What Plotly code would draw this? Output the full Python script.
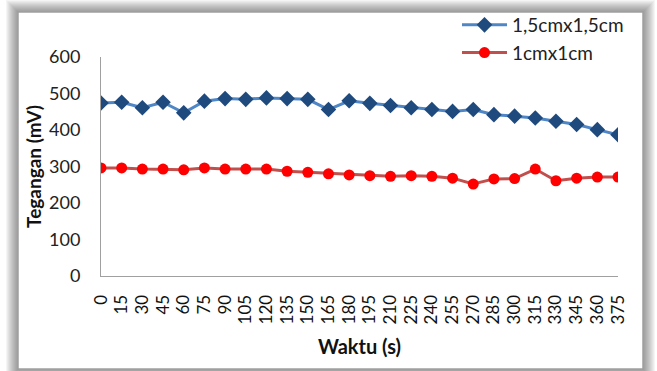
import plotly.graph_objects as go

waktu = [0, 15, 30, 45, 60, 75, 90, 105, 120, 135, 150, 165, 180, 195, 210, 225,
         240, 255, 270, 285, 300, 315, 330, 345, 360, 375]
seri_15 = [474, 476, 461, 476, 447, 479, 486, 484, 488, 486, 484, 456, 480, 473,
           467, 461, 456, 451, 456, 442, 438, 433, 424, 415, 401, 387]
seri_10 = [296, 296, 293, 293, 291, 296, 293, 293, 293, 287, 284, 280, 277, 275,
           273, 275, 273, 268, 252, 266, 267, 293, 261, 268, 271, 271]
x_labels = [str(v) for v in waktu]

W, H = 657, 371
L, R, T, B = 101, 39, 57, 95
pw, ph = W - L - R, H - T - B

def px(x):
    return (x - L) / pw

def py(y):
    return (H - B - y) / ph

fig = go.Figure()
fig.add_trace(go.Scatter(
    x=x_labels, y=seri_15, name="1,5cmx1,5cm", mode="lines+markers",
    line=dict(color="#4F86C6", width=3),
    marker=dict(symbol="diamond", size=12, color="#1F4A7E"),
))
fig.add_trace(go.Scatter(
    x=x_labels, y=seri_10, name="1cmx1cm", mode="lines+markers",
    line=dict(color="#C0504D", width=3),
    marker=dict(symbol="circle", size=11, color="#FF0000"),
))

# border with soft shadow around the chart box
bx0, bx1, by0, by1 = 18, 643, 12, 369
shapes = []
for k in range(12, 0, -1):
    shapes.append(dict(type="rect", xref="paper", yref="paper",
                       x0=px(bx0 - k), x1=px(bx1 + k), y0=py(by1 + k), y1=py(by0 - k),
                       line=dict(width=0), fillcolor="rgba(60,60,60,0.05)",
                       layer="below"))
shapes.append(dict(type="rect", xref="paper", yref="paper",
                   x0=px(bx0), x1=px(bx1), y0=py(by1), y1=py(by0),
                   line=dict(color="#A0A0A0", width=1.5), fillcolor="white",
                   layer="below"))

font = "Lato, 'Open Sans', sans-serif"
fig.update_layout(
    width=W, height=H,
    margin=dict(l=L, r=R, t=T, b=B, autoexpand=False),
    paper_bgcolor="white", plot_bgcolor="rgba(0,0,0,0)",
    font=dict(family=font, color="#222222", size=14),
    showlegend=True,
    legend=dict(x=px(457), y=py(6), xanchor="left", yanchor="top",
                font=dict(size=19, color="#222222"), bgcolor="rgba(0,0,0,0)",
                tracegroupgap=0, itemwidth=45),
    xaxis=dict(
        type="category", range=[0, len(waktu) - 1],
        tickmode="linear", tick0=0, dtick=1,
        tickangle=-90, showgrid=False, showline=True, linecolor="#A0A0A0",
        linewidth=1, ticks="outside", ticklen=11, tickcolor="rgba(0,0,0,0)",
        tickfont=dict(size=17, color="#111111"),
        title=dict(text="<b>Waktu (s)</b>", font=dict(size=20, color="#111111"), standoff=16),
    ),
    yaxis=dict(
        range=[0, 600], dtick=100, showgrid=False, showline=True,
        linecolor="#A0A0A0", linewidth=1, ticks="outside", ticklen=16,
        tickcolor="rgba(0,0,0,0)",
        tickfont=dict(size=18, color="#222222"),
        title=dict(text="<b>Tegangan (mV)</b>", font=dict(size=19, color="#111111"), standoff=2),
    ),
    shapes=shapes,
)

fig.write_html("out.html", config={"displayModeBar": False},
               post_script="document.body.style.margin='0';")
